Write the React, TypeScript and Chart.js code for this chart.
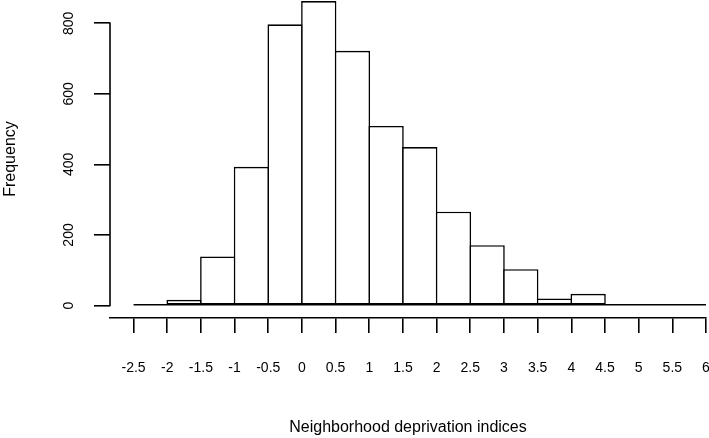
import { useEffect, useRef } from "react";
import { Chart, registerables } from "chart.js";

Chart.register(...registerables);

// Histogram bins (left edges) and their counts
const binStart = [-2.5, -2, -1.5, -1, -0.5, 0, 0.5, 1, 1.5, 2, 2.5, 3, 3.5, 4, 4.5, 5, 5.5];
const binWidth = 0.5;
const frequency = [2, 16, 139, 393, 797, 863, 722, 509, 449, 266, 171, 103, 20, 33, 2, 4, 0];

const xTickValues = [-2.5, -2, -1.5, -1, -0.5, 0, 0.5, 1, 1.5, 2, 2.5, 3, 3.5, 4, 4.5, 5, 5.5, 6];
const xTickLabels = ["-2.5", "-2", "-1.5", "-1", "-0.5", "0", "0.5", "1", "1.5", "2", "2.5", "3", "3.5", "4", "4.5", "5", "5.5", "6"];
const yTickValues = [0, 200, 400, 600, 800];
const yTickLabels = ["0", "200", "400", "600", "800"];

const xTitle = "Neighborhood deprivation indices";
const yTitle = "Frequency";

const FONT = "'Liberation Sans', Arial, Helvetica, sans-serif";

export default function App() {
  const ref = useRef<HTMLCanvasElement>(null);

  useEffect(() => {
    const rAxis = {
      id: "rAxis",
      afterDatasetsDraw(chart: any) {
        const { ctx } = chart;
        const xs = chart.scales.x;
        const ys = chart.scales.y;
        const y0 = ys.getPixelForValue(0);
        ctx.save();
        ctx.strokeStyle = "#000";
        ctx.lineWidth = 1.6;
        ctx.beginPath();
        ctx.moveTo(xs.getPixelForValue(binStart[0]), y0 - 0.8);
        ctx.lineTo(xs.getPixelForValue(binStart[binStart.length - 1] + binWidth), y0 - 0.8);
        ctx.stroke();
        ctx.restore();
      },
      afterDraw(chart: any) {
        const { ctx, chartArea } = chart;
        const ys = chart.scales.y;
        ctx.save();
        ctx.strokeStyle = "#000";
        ctx.lineWidth = 1.6;
        ctx.beginPath();
        ctx.moveTo(chartArea.left, ys.getPixelForValue(yTickValues[0]) + 0.8);
        ctx.lineTo(chartArea.left, ys.getPixelForValue(yTickValues[yTickValues.length - 1]) - 0.8);
        ctx.stroke();
        ctx.fillStyle = "#000";
        ctx.font = `14px ${FONT}`;
        ctx.textAlign = "center";
        ctx.textBaseline = "middle";
        yTickValues.forEach((v, i) => {
          ctx.save();
          ctx.translate(69, ys.getPixelForValue(v));
          ctx.rotate(-Math.PI / 2);
          ctx.fillText(yTickLabels[i], 0, 0);
          ctx.restore();
        });
        ctx.restore();
      },
    };

    const chart = new Chart(ref.current!, {
      type: "bar",
      data: {
        datasets: [
          {
            data: binStart.map((s, i) => ({ x: s + binWidth / 2, y: frequency[i] })),
            backgroundColor: "#ffffff",
            borderColor: "#000000",
            borderWidth: 1.6,
            borderSkipped: false,
            barPercentage: 1.048,
            categoryPercentage: 1,
            inflateAmount: 0,
          } as any,
        ],
      },
      options: {
        animation: false,
        responsive: false,
        devicePixelRatio: 1,
        layout: { padding: { top: 0, right: 3, left: 0, bottom: 0 } },
        plugins: { legend: { display: false }, tooltip: { enabled: false } },
        scales: {
          x: {
            type: "linear",
            min: -2.85,
            max: 6,
            offset: false,
            afterBuildTicks: (s: any) => {
              s.ticks = xTickValues.map((v) => ({ value: v }));
            },
            afterFit: (s: any) => {
              s.height = 120;
              s.paddingLeft = 0;
              s.paddingRight = 0;
            },
            ticks: {
              autoSkip: false,
              maxRotation: 0,
              minRotation: 0,
              padding: 27,
              color: "#000",
              font: { family: FONT, size: 14 },
              callback: (_v: any, i: number) => xTickLabels[i],
            },
            grid: { drawOnChartArea: false, drawTicks: true, tickLength: 15, color: "#000", lineWidth: 1.6, offset: false },
            border: { display: true, color: "#000", width: 1.6 },
            title: { display: true, text: xTitle, color: "#000", font: { family: FONT, size: 16 }, padding: { top: 0, bottom: 1 } },
          },
          y: {
            type: "linear",
            min: -35.4,
            max: 866,
            afterBuildTicks: (s: any) => {
              s.ticks = yTickValues.map((v) => ({ value: v }));
            },
            afterFit: (s: any) => {
              s.width = 110;
              s.paddingTop = 0;
              s.paddingBottom = 0;
            },
            ticks: { display: false },
            grid: { drawOnChartArea: false, drawTicks: true, tickLength: 16, color: "#000", lineWidth: 1.6 },
            border: { display: false },
            title: { display: true, text: yTitle, color: "#000", font: { family: FONT, size: 16 }, padding: { top: 1, bottom: 0 } },
          },
        },
      } as any,
      plugins: [rAxis],
    });
    return () => chart.destroy();
  }, []);

  return (
    <div style={{ position: "fixed", left: 0, top: 0, width: 709, height: 438, background: "#fff" }}>
      <canvas ref={ref} width={709} height={438} style={{ width: 709, height: 438, display: "block" }} />
    </div>
  );
}
